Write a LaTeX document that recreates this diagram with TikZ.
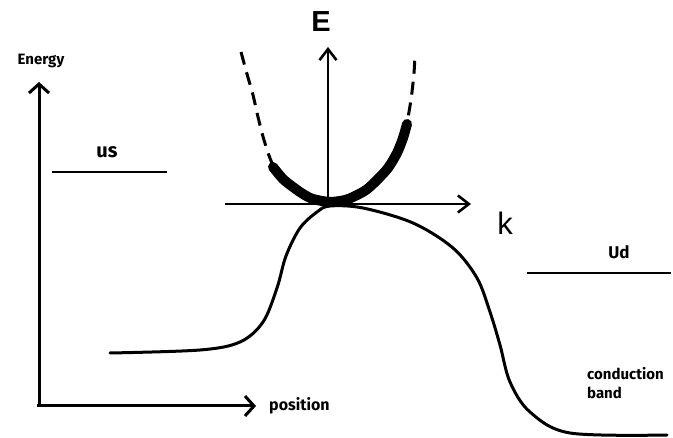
\documentclass[tikz,border=0pt]{standalone}
\usepackage{fontspec}
\setmainfont{Fira Sans}
\newfontfamily\arialfont{Liberation Sans}
\usetikzlibrary{arrows.meta}
\begin{document}
\begin{tikzpicture}[x=1pt,y=-1pt,
  axis/.style={line width=3pt,-{Straight Barb[length=9pt,width=20pt,line width=3pt]}},
  kaxis/.style={line width=2.6pt,-{Straight Barb[length=11pt,width=17pt,line width=2.6pt]}},
  level/.style={line width=1.4pt},
  band/.style={line width=3pt,line cap=round},
  dashpara/.style={line width=3pt,dash pattern=on 13pt off 8pt},
  thickpara/.style={line width=10pt,line cap=round},
  lbl/.style={inner sep=0pt,font=\bfseries}
]
\useasboundingbox (0,0) rectangle (673,438);
% main axes
\coordinate (orig) at (39,406);
\coordinate (etop) at (39,82);
\coordinate (pend) at (256,406);
\draw[axis] (orig|-0,407) -- (etop);
\draw[axis] (37,406) -- (pend);
\node[lbl,font=\bfseries\fontsize{15}{17}\selectfont] (energy) at (41,61) {Energy};
\node[lbl,font=\bfseries\fontsize{16}{18}\selectfont,anchor=west] (position) at (269,406) {position};
% levels
\coordinate (us1) at (52,172); \coordinate (us2) at (167,172);
\draw[level] (us1) -- (us2);
\node[lbl,font=\bfseries\fontsize{20}{22}\selectfont] (us) at (107,152) {us};
\coordinate (ud1) at (527,273); \coordinate (ud2) at (671,273);
\draw[level] (ud1) -- (ud2);
\node[lbl,font=\bfseries\fontsize{17}{19}\selectfont] (ud) at (619,252) {Ud};
\node[lbl,font=\bfseries\fontsize{15}{19}\selectfont,anchor=north west,align=left] (cb) at (587,367) {conduction\\band};
% conduction band curve
\draw[band] plot[smooth,tension=0.55] coordinates {
 (110,353) (200,350) (240,342) (263,322) (277,288) (286,256) (300,228) (317,212) (330,206)
 (363,208) (413,223) (453,248) (477,278) (490,312) (500,345) (510,382) (530,412) (570,433) (667,435)};
% E-k diagram
\coordinate (ebot) at (328,204);
\coordinate (etip) at (328,47);
\coordinate (kstart) at (225,204);
\coordinate (ktip) at (471,204);
\draw[kaxis] (ebot) -- (etip);
\draw[kaxis] (kstart) -- (ktip);
\node[inner sep=0pt,font=\arialfont\bfseries\fontsize{29}{30}\selectfont] (E) at (321,22) {E};
\node[inner sep=0pt,font=\arialfont\fontsize{31}{32}\selectfont] (k) at (505,223) {k};
% parabola
\draw[dashpara] plot[smooth,tension=0.5] coordinates {
 (241,52) (247,74) (253,95) (258,117) (264,140) (272,163) (283,179) (293,187) (303,194) (313,199) (330,202)
 (345,200) (353,197) (366,190) (377,180) (388,168) (397,153) (403,138) (407,123) (410,106) (412,92) (414,73) (415,55)};
\draw[thickpara] plot[smooth,tension=0.5] coordinates {
 (273,167) (283,179) (293,187) (303,194) (313,199) (330,202)
 (345,200) (353,197) (366,190) (377,180) (388,168) (397,153) (403,138) (407,124)};
\end{tikzpicture}
\end{document}
